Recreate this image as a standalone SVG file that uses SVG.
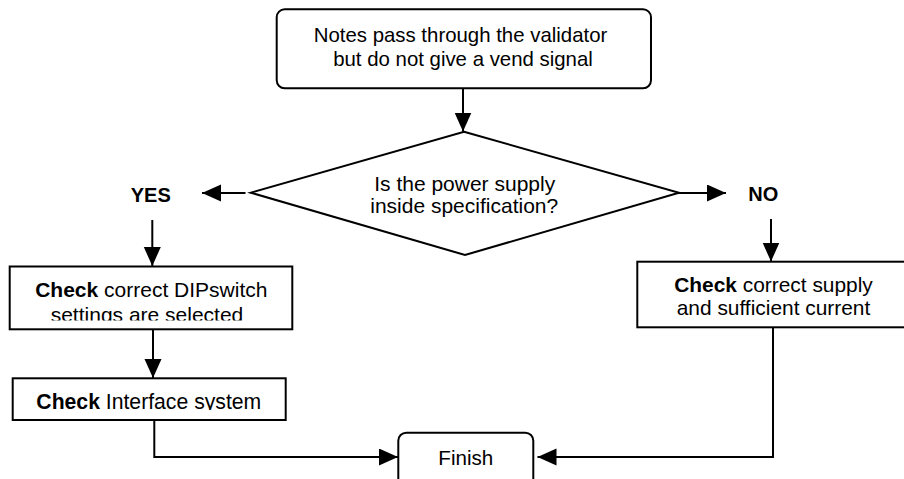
<svg xmlns="http://www.w3.org/2000/svg" width="904" height="479" viewBox="0 0 904 479">
  <style>
    .shape { fill: #ffffff; stroke: #000000; stroke-width: 2; }
    .conn { fill: none; stroke: #000000; stroke-width: 2; }
    .t { font-family: "Liberation Sans", Arial, sans-serif; fill: #000000; text-anchor: middle; }
    .b { font-weight: bold; }
  </style>
  <defs>
    <marker id="arrow" markerUnits="userSpaceOnUse" markerWidth="20" markerHeight="18" refX="19" refY="8.5" orient="auto">
      <path d="M0,0 L19,8.5 L0,17 z" fill="#000000"/>
    </marker>
    <clipPath id="clip1">
      <rect x="10" y="267" width="282" height="53.5"/>
    </clipPath>
    <clipPath id="clip2">
      <rect x="13" y="379" width="272" height="31"/>
    </clipPath>
  </defs>

  <g id="connectors">
    <path class="conn" d="M463,88 L463,131.5" marker-end="url(#arrow)"/>
    <path class="conn" d="M245.5,193 L202,193" marker-end="url(#arrow)"/>
    <path class="conn" d="M677,193 L726,193" marker-end="url(#arrow)"/>
    <path class="conn" d="M152.3,220 L152.3,266" marker-end="url(#arrow)"/>
    <path class="conn" d="M771,219 L771,261.5" marker-end="url(#arrow)"/>
    <path class="conn" d="M153,330 L153,378" marker-end="url(#arrow)"/>
    <path class="conn" d="M154.3,420 L154.3,457 L398,457" marker-end="url(#arrow)"/>
    <path class="conn" d="M773,327 L773,457 L537.5,457" marker-end="url(#arrow)"/>
  </g>

  <g id="start">
    <rect class="shape" x="276.7" y="9.3" width="374.3" height="79" rx="8" ry="8"/>
    <text class="t" x="460.5" y="41.5" font-size="20.4">Notes pass through the validator</text>
    <text class="t" x="463" y="65.5" font-size="20.4">but do not give a vend signal</text>
  </g>

  <g id="decision">
    <polygon class="shape" points="464,131.7 679,192.7 465,255 250.7,192.7"/>
    <text class="t" x="464.7" y="190.5" font-size="21">Is the power supply</text>
    <text class="t" x="464.2" y="212.5" font-size="21">inside specification?</text>
  </g>

  <g id="label-yes">
    <text class="t b" x="150.8" y="201.5" font-size="20">YES</text>
  </g>

  <g id="label-no">
    <text class="t b" x="763.3" y="200.7" font-size="20">NO</text>
  </g>

  <g id="check-dipswitch">
    <rect class="shape" x="9.7" y="266.5" width="282.6" height="62.8"/>
    <g clip-path="url(#clip1)">
      <text class="t" x="151.3" y="296.5" font-size="21"><tspan class="b">Check</tspan> correct DIPswitch</text>
      <text class="t" x="147" y="321.5" font-size="21">settings are selected</text>
    </g>
  </g>

  <g id="check-interface">
    <rect class="shape" x="12.7" y="378.3" width="273" height="41.7"/>
    <g clip-path="url(#clip2)">
      <text class="t" x="148.8" y="409.3" font-size="21.2"><tspan class="b">Check</tspan> Interface system</text>
    </g>
  </g>

  <g id="check-supply">
    <rect class="shape" x="637.3" y="261.7" width="275" height="65.6"/>
    <text class="t" x="773.5" y="291.7" font-size="20.9"><tspan class="b">Check</tspan> correct supply</text>
    <text class="t" x="773.5" y="315.3" font-size="20.9">and sufficient current</text>
  </g>

  <g id="finish">
    <rect class="shape" x="398.3" y="432.7" width="135" height="62" rx="8" ry="8"/>
    <text class="t" x="465.8" y="465" font-size="20.6">Finish</text>
  </g>
</svg>
